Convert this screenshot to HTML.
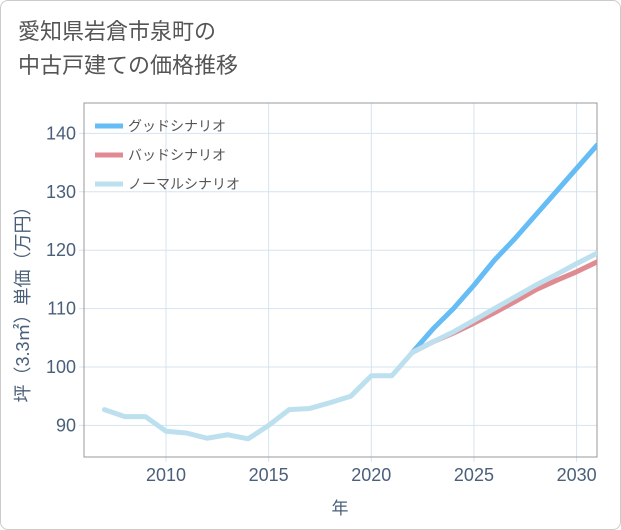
<!DOCTYPE html>
<html><head><meta charset="utf-8"><style>
body{margin:0;background:#fff}
#wrap{width:619px;height:528px;border:1px solid #ccc;border-radius:8px;position:relative;overflow:hidden;font-family:"Liberation Sans","Noto Sans CJK JP",sans-serif}
#title{position:absolute;left:17px;top:14px;font-size:22px;line-height:34px;color:#555}
</style></head><body>
<div id="wrap">
<div id="title">愛知県岩倉市泉町の<br>中古戸建ての価格推移</div>
<svg id="chart" width="621" height="530" style="position:absolute;left:-1px;top:-1px"></svg>
</div>
<script>
const years=[2007,2008,2009,2010,2011,2012,2013,2014,2015,2016,2017,2018,2019,2020,2021,2022];
const normalHist=[92.7,91.5,91.5,89,88.7,87.8,88.4,87.7,90,92.7,92.9,93.9,95,98.5,98.5,102.5];
const futYears=[2022,2023,2024,2025,2026,2027,2028,2029,2030,2031];
const good=[102.5,106.5,110,114,118.3,122,126,130,134,138];
const bad=[102.5,104.3,105.8,107.5,109.3,111.2,113.2,114.8,116.3,118];
const normalFut=[102.5,104.3,106,108,110,112,114,115.8,117.7,119.5];
const xTicks=[2010,2015,2020,2025,2030];
const yTicks=[90,100,110,120,130,140];
const NS='http://www.w3.org/2000/svg';
const svg=document.getElementById('chart');
const L=84,R=597,T=103,B=457;
const xs=y=>166+(y-2010)*20.53;
const ys=v=>367-(v-100)*5.84;
function el(t,a,p){const e=document.createElementNS(NS,t);for(const k in a)e.setAttribute(k,a[k]);(p||svg).appendChild(e);return e;}
const defs=el('defs',{});
const cp=el('clipPath',{id:'cp'},defs);el('rect',{x:L,y:T,width:R-L,height:B-T},cp);
xTicks.forEach(t=>{
 const g=el('line',{x1:xs(t),x2:xs(t),y1:T,y2:B+5,stroke:'#d5e3ef','stroke-width':1});
 
 
 const tx=el('text',{x:xs(t),y:B+24,'text-anchor':'middle','font-size':18,fill:'#4a5f7a'});
 tx.textContent=t;
 
 
});
yTicks.forEach(t=>{
 const g=el('line',{x1:L-5,x2:R,y1:ys(t),y2:ys(t),stroke:'#d5e3ef','stroke-width':1});
 
 
 const tx=el('text',{x:L-8,y:ys(t)+6,'text-anchor':'end','font-size':18,fill:'#4a5f7a'});
 tx.textContent=t;
 
 
});
const ax=el('rect',{x:L,y:T,width:R-L,height:B-T,fill:'none',stroke:'#999','stroke-width':1});


function line(xv,yv,color,name){
 const p=el('polyline',{points:xv.map((x,i)=>xs(x)+','+ys(yv[i])).join(' '),fill:'none',stroke:color,'stroke-width':5,'stroke-linejoin':'round','stroke-linecap':'round','clip-path':'url(#cp)'});
 
 
}
line(futYears,good,'#66bdf5','good-scenario-line');
line(futYears,bad,'#e08a92','bad-scenario-line');
line(years.concat(futYears.slice(1)),normalHist.concat(normalFut.slice(1)),'#bde0ef','normal-scenario-line');
const leg=[['グッドシナリオ','#66bdf5'],['バッドシナリオ','#e08a92'],['ノーマルシナリオ','#bde0ef']];
leg.forEach((d,i)=>{
 const y=126+i*29;
 const s=el('line',{x1:95,x2:123,y1:y,y2:y,stroke:d[1],'stroke-width':5});
 
 
 const t=el('text',{x:128,y:y+5,'font-size':14,fill:'#555'});
 t.textContent=d[0];
 
 
});
const xt=el('text',{x:340,y:514,'text-anchor':'middle','font-size':17,fill:'#4a5f7a'});
xt.textContent='年';


const yt=el('text',{x:0,y:0,'text-anchor':'middle','font-size':18,fill:'#4a5f7a',transform:'translate(29,300) rotate(-90)'});
yt.textContent='坪（3.3㎡）単価（万円）';


</script>
</body></html>
